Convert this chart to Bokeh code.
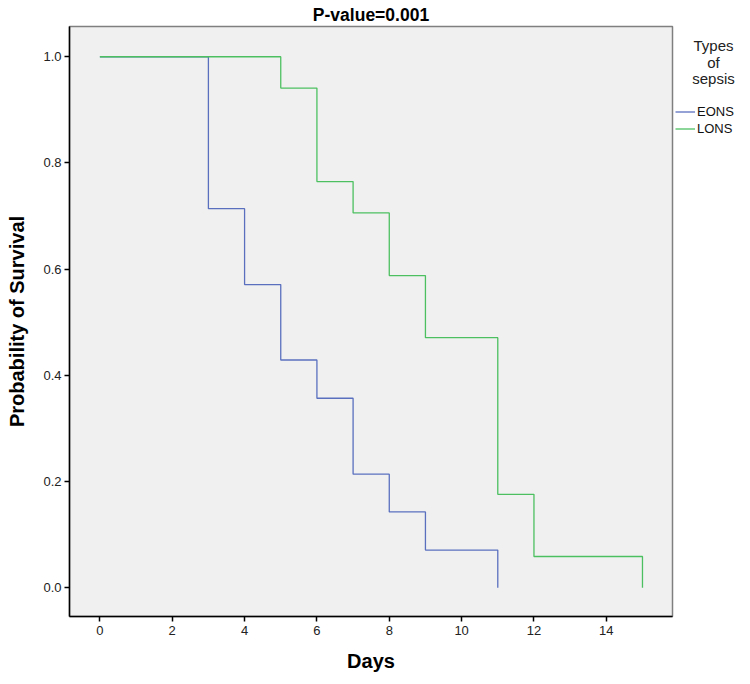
from bokeh.plotting import figure
from bokeh.layouts import row
from bokeh.models import Range1d, FixedTicker, Legend, LegendItem, PrintfTickFormatter, Label
from bokeh.embed import file_html
from bokeh.resources import INLINE

# Kaplan-Meier survival data
eons_days = [0, 3, 4, 5, 6, 7, 8, 9, 11]
eons_surv = [1.0, 0.714, 0.571, 0.429, 0.357, 0.214, 0.143, 0.071, 0.0]
lons_days = [0, 5, 6, 7, 8, 9, 11, 12, 15]
lons_surv = [1.0, 0.941, 0.765, 0.706, 0.588, 0.471, 0.176, 0.059, 0.0]
x_ticks = [0, 2, 4, 6, 8, 10, 12, 14]
y_ticks = [0.0, 0.2, 0.4, 0.6, 0.8, 1.0]
group_names = ["EONS", "LONS"]
group_colors = ["#5a70bf", "#4cc060"]
title_text = "P-value=0.001"
legend_title_lines = ["Types", "of", "sepsis"]

FONT = "Liberation Sans"
H = 676

p = figure(width=675, height=H, output_backend="svg", toolbar_location=None,
           x_range=Range1d(-0.84, 15.83), y_range=Range1d(-0.054, 1.057),
           min_border_left=69, min_border_right=3, min_border_top=26,
           min_border_bottom=60)

p.title.text = title_text
p.title.align = "center"
p.title.text_font = FONT
p.title.text_font_size = "17.5px"
p.title.text_font_style = "bold"
p.title.text_color = "black"
p.title.standoff = 4
p.title.offset = 4

p.background_fill_color = "#f0f0f0"
p.border_fill_color = "white"
p.outline_line_color = "#7f7f7f"
p.outline_line_width = 1.5
p.grid.visible = False

p.step(eons_days, eons_surv, mode="after", line_color=group_colors[0], line_width=1.3)
p.step(lons_days, lons_surv, mode="after", line_color=group_colors[1], line_width=1.3)

for ax in (p.xaxis[0], p.yaxis[0]):
    ax.axis_line_color = "black"
    ax.axis_line_width = 1.5
    ax.major_tick_line_color = "black"
    ax.major_tick_line_width = 1.5
    ax.major_tick_out = 5
    ax.major_tick_in = 0
    ax.minor_tick_out = 0
    ax.minor_tick_in = 0
    ax.major_label_text_font = FONT
    ax.major_label_text_font_size = "13px"
    ax.major_label_text_color = "#222222"
    ax.axis_label_text_font = FONT
    ax.axis_label_text_font_size = "20px"
    ax.axis_label_text_font_style = "bold"
    ax.axis_label_text_color = "black"

p.xaxis.ticker = FixedTicker(ticks=x_ticks)
p.yaxis.ticker = FixedTicker(ticks=y_ticks)
p.yaxis.formatter = PrintfTickFormatter(format="%.1f")
p.xaxis.axis_label = "Days"
p.yaxis.axis_label = "Probability of Survival"
p.xaxis.major_label_standoff = 4
p.xaxis.axis_label_standoff = 12
p.yaxis.major_label_standoff = 3
p.yaxis.axis_label_standoff = 12

# Side panel holding the legend (its frame lines up with the main frame)
q = figure(width=75, height=H, output_backend="svg", toolbar_location=None,
           x_range=Range1d(0, 1), y_range=Range1d(0, 1),
           x_axis_location=None, y_axis_location=None,
           min_border_left=0, min_border_right=0, min_border_top=0, min_border_bottom=0)
q.outline_line_color = None
q.grid.visible = False
q.background_fill_color = "white"
q.border_fill_color = "white"

items = []
for name, col, xs, ys in zip(group_names, group_colors, [eons_days, lons_days], [eons_surv, lons_surv]):
    rr = q.step(xs, ys, mode="after", line_color=col, line_width=1.3, visible=False)
    items.append(LegendItem(label=name, renderers=[rr]))

legend = Legend(items=items, location=(0, 479))
legend.label_text_font = FONT
legend.label_text_font_size = "13px"
legend.label_text_color = "#111111"
legend.border_line_color = None
legend.background_fill_alpha = 0
legend.inactive_fill_alpha = 0
legend.glyph_width = 20
legend.label_standoff = 2
legend.spacing = 0
legend.padding = 2
legend.margin = 0
legend.label_height = 17
legend.glyph_height = 17
q.add_layout(legend, "center")

for i, line in enumerate(legend_title_lines):
    q.add_layout(Label(x=38, y=571 - i * 16.5, x_units="screen", y_units="screen",
                       text=line, text_align="center", text_baseline="middle",
                       text_font=FONT, text_font_size="15px", text_color="#222222"))

layout = row(p, q, spacing=0)
open("out.html", "w").write(file_html(layout, INLINE))
